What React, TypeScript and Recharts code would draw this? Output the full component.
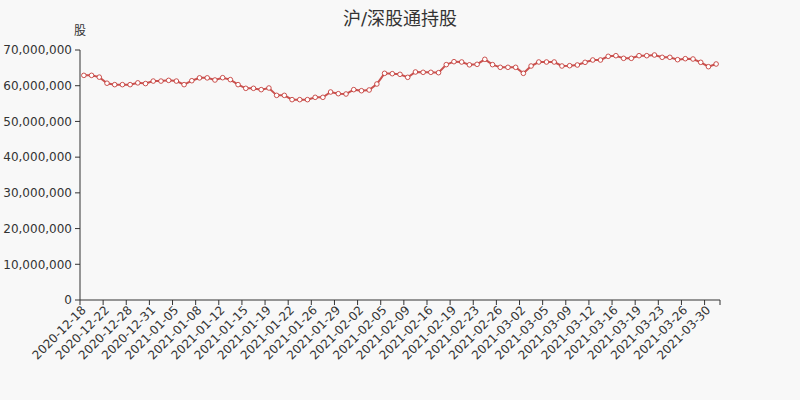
import React from 'react';
import { LineChart, Line, XAxis, YAxis } from 'recharts';

const dates = [
  '2020-12-18', '2020-12-20', '2020-12-21', '2020-12-22', '2020-12-23', '2020-12-24',
  '2020-12-28', '2020-12-29', '2020-12-30', '2020-12-31', '2021-01-03', '2021-01-04',
  '2021-01-05', '2021-01-06', '2021-01-07', '2021-01-08', '2021-01-10', '2021-01-11',
  '2021-01-12', '2021-01-13', '2021-01-14', '2021-01-15', '2021-01-17', '2021-01-18',
  '2021-01-19', '2021-01-20', '2021-01-21', '2021-01-22', '2021-01-24', '2021-01-25',
  '2021-01-26', '2021-01-27', '2021-01-28', '2021-01-29', '2021-01-31', '2021-02-01',
  '2021-02-02', '2021-02-03', '2021-02-04', '2021-02-05', '2021-02-07', '2021-02-08',
  '2021-02-09', '2021-02-10', '2021-02-11', '2021-02-16', '2021-02-17', '2021-02-18',
  '2021-02-19', '2021-02-21', '2021-02-22', '2021-02-23', '2021-02-24', '2021-02-25',
  '2021-02-26', '2021-02-28', '2021-03-01', '2021-03-02', '2021-03-03', '2021-03-04',
  '2021-03-05', '2021-03-07', '2021-03-08', '2021-03-09', '2021-03-10', '2021-03-11',
  '2021-03-12', '2021-03-14', '2021-03-15', '2021-03-16', '2021-03-17', '2021-03-18',
  '2021-03-19', '2021-03-21', '2021-03-22', '2021-03-23', '2021-03-24', '2021-03-25',
  '2021-03-26', '2021-03-28', '2021-03-29', '2021-03-30', '2021-03-31',
];

// 持股数量（股）
const holdings = [
  62900000, 62900000, 62400000, 60700000, 60300000, 60300000, 60300000, 60800000,
  60600000, 61300000, 61300000, 61500000, 61300000, 60300000, 61400000, 62200000,
  62200000, 61600000, 62250000, 61700000, 60300000, 59270000, 59270000, 58900000,
  59360000, 57300000, 57300000, 56100000, 56100000, 56100000, 56750000, 56750000,
  58240000, 57770000, 57680000, 58900000, 58600000, 58800000, 60480000, 63470000,
  63370000, 63190000, 62350000, 63840000, 63750000, 63750000, 63650000, 65900000,
  66730000, 66640000, 65850000, 65990000, 67390000, 65900000, 65150000, 65150000,
  65150000, 63470000, 65520000, 66640000, 66640000, 66640000, 65520000, 65610000,
  65800000, 66550000, 67200000, 67200000, 68230000, 68410000, 67670000, 67670000,
  68410000, 68410000, 68600000, 67950000, 67950000, 67290000, 67570000, 67480000,
  66550000, 65330000, 66080000,
];

const yTicks = [0, 10000000, 20000000, 30000000, 40000000, 50000000, 60000000, 70000000];

const data = dates.map((d, i) => ({ date: d, value: holdings[i] }));

const FONT = '"DejaVu Sans", "Noto Sans CJK SC", sans-serif';
const TEXT = '#333';
const LINE = '#c23531';
const PLOT_W = 640;
const BW = PLOT_W / dates.length;

const DateTick = (props: any) => {
  const { x, y, payload } = props;
  const idx = payload.index;
  const lastShown = Math.floor((dates.length - 1) / 3) * 3;
  const left = x - BW / 2;
  const endX = x + (dates.length - 1 - idx) * BW + BW / 2;
  return (
    <g>
      <line x1={left} y1={y} x2={left} y2={y + 5} stroke={TEXT} />
      {idx === lastShown && <line x1={endX} y1={y} x2={endX} y2={y + 5} stroke={TEXT} />}
      <text
        x={x}
        y={y + 8}
        transform={`rotate(-45 ${x} ${y + 8})`}
        textAnchor="end"
        dominantBaseline="central"
        fontSize={12}
        fill={TEXT}
        fontFamily={FONT}
      >
        {payload.value}
      </text>
    </g>
  );
};

const App: React.FC = () => {
  return (
    <div style={{ width: 800, height: 400, background: '#f8f8f8', position: 'relative', fontFamily: FONT }}>
      <style>{`body { margin: 0; }`}</style>
      <div
        style={{
          position: 'absolute',
          top: 4,
          left: 0,
          width: 800,
          textAlign: 'center',
          fontSize: 18,
          color: TEXT,
        }}
      >
        沪/深股通持股
      </div>
      <div style={{ position: 'absolute', top: 21, left: 74, fontSize: 12, color: TEXT }}>股</div>
      <LineChart width={800} height={400} data={data} margin={{ top: 50, right: 80, bottom: 0, left: 0 }}>
        <XAxis
          dataKey="date"
          scale="band"
          interval={2}
          height={100}
          tickLine={false}
          tickSize={0}
          tickMargin={0}
          axisLine={{ stroke: TEXT }}
          tick={<DateTick />}
        />
        <YAxis
          width={80}
          domain={[0, 70000000]}
          ticks={yTicks}
          interval={0}
          tickSize={5}
          tickMargin={3}
          axisLine={{ stroke: TEXT }}
          tickLine={{ stroke: TEXT }}
          tick={{ fontSize: 12, fill: TEXT, fontFamily: FONT }}
          tickFormatter={(v: number) => v.toLocaleString('en-US')}
        />
        <Line
          type="linear"
          dataKey="value"
          stroke={LINE}
          strokeWidth={2}
          strokeOpacity={0.85}
          dot={{ r: 2.3, fill: '#fff', stroke: LINE, strokeWidth: 1 }}
          isAnimationActive={false}
        />
      </LineChart>
    </div>
  );
};

export default App;
